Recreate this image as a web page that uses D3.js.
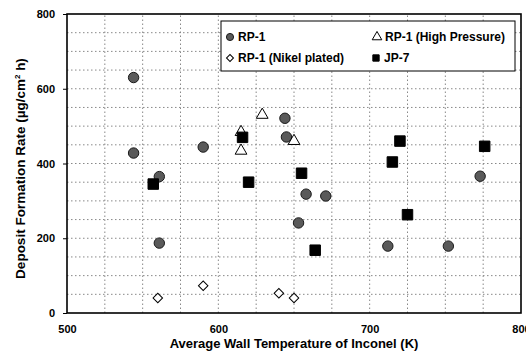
<!DOCTYPE html>
<html>
<head>
<meta charset="utf-8">
<script src="https://cdn.jsdelivr.net/npm/d3@7"></script>
<style>
    body { margin: 0; background: #fff; }
    svg { display: block; font-family: 'Liberation Sans', Arial, sans-serif; }
</style>
</head>
<body>
<svg id="chart" width="526" height="360"></svg>
<script>
'use strict';

// RP-1 (T in K, rate in ug/cm2 h)
var rp1T = [544, 544, 561, 561, 590, 644, 645, 653, 658, 671, 712, 752, 773];
var rp1V = [630, 428, 365, 187, 444, 521, 471, 241, 318, 313, 179, 179, 366];

// RP-1 (High Pressure)
var hpT = [615, 615, 629, 650];
var hpV = [484, 434, 530, 460];

// RP-1 (Nikel plated)
var niT = [560, 590, 640, 650];
var niV = [40, 73, 53, 40];

// JP-7
var jpT = [557, 616, 620, 655, 664, 715, 720, 725, 776];
var jpV = [345, 470, 350, 374, 168, 404, 460, 263, 446];

var yTicks = [0, 200, 400, 600, 800];
var xTicks = [500, 600, 700, 800];

var margin = {left: 67, top: 14, right: 5, bottom: 47};
var width = 526, height = 360;

var svg = d3.select('#chart');

var x = d3.scaleLinear().domain([500, 800]).range([margin.left, width - margin.right]);
var y = d3.scaleLinear().domain([0, 800]).range([height - margin.bottom, margin.top]);

function zip(a, b) {
    return a.map(function(v, i) { return [v, b[i]]; });
}

// dotted grid
var grid = svg.append('g').attr('stroke', '#888').attr('stroke-width', 1)
    .attr('stroke-dasharray', '1.5,2.5');

grid.selectAll('line.gy').data(d3.range(50, 800, 50)).enter().append('line')
    .attr('x1', x(500)).attr('x2', x(800))
    .attr('y1', function(d) { return y(d); })
    .attr('y2', function(d) { return y(d); });

grid.selectAll('line.gx').data(d3.range(525, 800, 25)).enter().append('line')
    .attr('y1', y(0)).attr('y2', y(800))
    .attr('x1', function(d) { return x(d); })
    .attr('x2', function(d) { return x(d); });

// axes
var xAxis = d3.axisBottom(x).tickValues(xTicks).tickSize(0).tickPadding(12);
var yAxis = d3.axisLeft(y).tickValues(yTicks).tickSize(4).tickPadding(8);

svg.append('g').attr('transform', 'translate(0,' + y(0) + ')').call(xAxis)
    .call(function(g) { g.select('.domain').remove(); });
svg.append('g').attr('transform', 'translate(' + x(500) + ',0)').call(yAxis)
    .call(function(g) { g.select('.domain').remove(); });

svg.selectAll('.tick text')
    .attr('font-family', "'Liberation Sans', Arial, sans-serif")
    .attr('font-size', 11).attr('font-weight', 'bold').attr('fill', '#000');
svg.selectAll('.tick line').attr('stroke', '#000');

// frame
svg.append('rect')
    .attr('x', x(500)).attr('y', y(800))
    .attr('width', x(800) - x(500)).attr('height', y(0) - y(800))
    .attr('fill', 'none').attr('stroke', '#000').attr('stroke-width', 1.6);

// markers
var circ = d3.symbol().type(d3.symbolCircle).size(85);
var tri = d3.symbol().type(d3.symbolTriangle).size(60);
var dia = d3.symbol().type(d3.symbolSquare).size(45);
var sq = d3.symbol().type(d3.symbolSquare).size(110);

function drawSeries(data, sym, fill, stroke, rot) {
    svg.append('g').selectAll('path').data(data).enter().append('path')
        .attr('d', sym)
        .attr('transform', function(d) {
            return 'translate(' + x(d[0]) + ',' + y(d[1]) + ')' + (rot ? ' rotate(45)' : '');
        })
        .attr('fill', fill).attr('stroke', stroke).attr('stroke-width', 1);
}

drawSeries(zip(rp1T, rp1V), circ, '#5a5a5a', '#1a1a1a');
drawSeries(zip(hpT, hpV), tri, '#fff', '#000');
drawSeries(zip(niT, niV), dia, '#fff', '#000', true);
drawSeries(zip(jpT, jpV), sq, '#000', '#000');

// legend
var leg = svg.append('g').attr('transform', 'translate(221,21)');
leg.append('rect').attr('width', 294).attr('height', 50)
    .attr('fill', '#fff').attr('stroke', '#000').attr('stroke-width', 1);

var legItems = [
    {label: 'RP-1', sym: d3.symbol().type(d3.symbolCircle).size(40), fill: '#5a5a5a', stroke: '#1a1a1a', lx: 9, ly: 16},
    {label: 'RP-1 (High Pressure)', sym: d3.symbol().type(d3.symbolTriangle).size(40), fill: '#fff', stroke: '#000', lx: 156, ly: 16},
    {label: 'RP-1 (Nikel plated)', sym: d3.symbol().type(d3.symbolSquare).size(24), fill: '#fff', stroke: '#000', lx: 9, ly: 37, rot: true},
    {label: 'JP-7', sym: d3.symbol().type(d3.symbolSquare).size(40), fill: '#000', stroke: '#000', lx: 155, ly: 37}
];

var li = leg.selectAll('g.item').data(legItems).enter().append('g')
    .attr('transform', function(d) { return 'translate(' + d.lx + ',' + d.ly + ')'; });
li.append('path').attr('d', function(d) { return d.sym(); })
    .attr('transform', function(d) { return d.rot ? 'rotate(45)' : null; })
    .attr('fill', function(d) { return d.fill; })
    .attr('stroke', function(d) { return d.stroke; });
li.append('text').attr('x', 8).attr('dy', '0.35em')
    .attr('font-size', 12).attr('font-weight', 'bold')
    .text(function(d) { return d.label; });

// axis titles
svg.append('text')
    .attr('x', (x(500) + x(800)) / 2).attr('y', 348)
    .attr('text-anchor', 'middle').attr('font-size', 13).attr('font-weight', 'bold')
    .text('Average Wall Temperature of Inconel (K)');

svg.append('text')
    .attr('transform', 'translate(25,' + ((y(0) + y(800)) / 2 + 5) + ') rotate(-90)')
    .attr('text-anchor', 'middle').attr('font-size', 13.5).attr('font-weight', 'bold')
    .html('Deposit Formation Rate (µg/cm<tspan dy="-5" font-size="8">2</tspan><tspan dy="5"> h)</tspan>');
</script>
</body>
</html>
